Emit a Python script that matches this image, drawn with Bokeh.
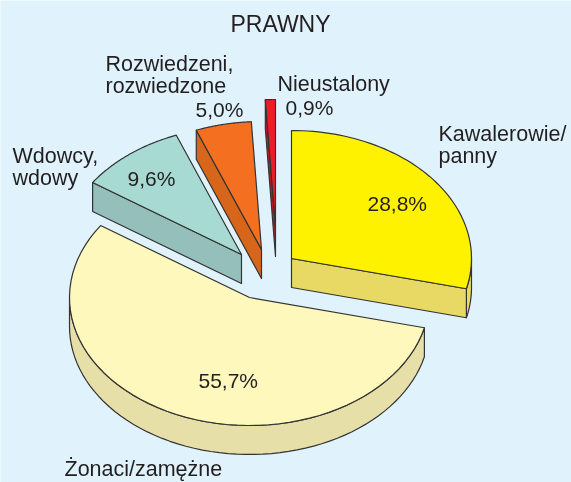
import math
from bokeh.plotting import figure
from bokeh.embed import file_html
from bokeh.resources import INLINE
from bokeh.core.properties import value

# --- data ---
title = "PRAWNY"
categories = ["Kawalerowie/\npanny", "Żonaci/zamężne", "Wdowcy,\nwdowy", "Rozwiedzeni,\nrozwiedzone", "Nieustalony"]
shares = [28.8, 55.7, 9.6, 5.0, 0.9]

# --- layout (pixels, y down) ---
W, H = 571, 482
RX, RY, DEPTH = 180, 128, 29
apex_x = [291, 249, 241, 261, 275]
apex_y = [258, 297, 254, 249, 227]
top_col = ["#FFF200", "#FFF8BC", "#A6DAD2", "#F47020", "#EE1C25"]
side_col = ["#E8D964", "#E6DFA8", "#95BFBA", "#D7651A", "#B81B22"]
BG = "#E0F3FC"
INK = "#231F20"
FONT = "Liberation Sans"
LINE_GAP = 22
# name block anchors and percentage anchors (baselines)
name_x = [438, 64, 12, 105, 277]
name_y = [141, 476, 163, 71, 91]
pct_x = [367, 198, 127, 195, 285]
pct_y = [210, 387, 185, 116, 114]

p = figure(width=W, height=H, x_range=(0, W), y_range=(H, 0),
           output_backend="svg", toolbar_location=None, min_border=0,
           background_fill_color=BG, border_fill_color=BG,
           outline_line_color=None,
           styles={"position": "fixed", "left": "0", "top": "0"})
p.axis.visible = False
p.grid.visible = False


def rim(cx, cy, t0, t1, dy=0, n=60):
    ts = [t0 + (t1 - t0) * i / n for i in range(n + 1)]
    return ([cx + RX * math.sin(math.radians(t)) for t in ts],
            [cy - RY * math.cos(math.radians(t)) + dy for t in ts])


def poly(xs, ys, color):
    p.patch(xs, ys, fill_color=color, line_color="#333333", line_width=1.2, line_join="round")


# slice angles from the values
edges = [0.0]
for s in shares:
    edges.append(edges[-1] + s * 3.6)

for i in [4, 3, 2, 0, 1]:
    cx, cy = apex_x[i], apex_y[i]
    t0, t1 = edges[i], edges[i + 1]
    # side walls: outer rim in the lower half of the ellipse
    a, b = max(t0, 90), min(t1, 270)
    if a < b:
        x1, y1 = rim(cx, cy, a, b)
        x2, y2 = rim(cx, cy, a, b, DEPTH)
        poly(x1 + x2[::-1], y1 + y2[::-1], side_col[i])
    # cut faces that look towards the viewer
    if i == 0:
        tf = t1
    elif i == 1:
        tf = None
    else:
        tf = t0
    if tf is not None:
        ex = cx + RX * math.sin(math.radians(tf))
        ey = cy - RY * math.cos(math.radians(tf))
        poly([cx, ex, ex, cx], [cy, ey, ey + DEPTH, cy + DEPTH], side_col[i])
    # top face
    xs, ys = rim(cx, cy, t0, t1)
    poly([cx] + xs, [cy] + ys, top_col[i])

# texts: y is the wanted baseline; the glyph call anchors on the text's middle
def label(x, y, txt, size=21, align="left"):
    p.text([x], [y - 0.35 * size], text=[txt], text_font=value(FONT), text_font_size=value(f"{size}px"),
           text_color=INK, text_align=align, text_baseline="middle")


label(280, 32, title, 23, "center")
for i, name in enumerate(categories):
    for j, line in enumerate(name.split("\n")):
        label(name_x[i], name_y[i] + LINE_GAP * j, line, 21.5)
    label(pct_x[i], pct_y[i], f"{shares[i]:.1f}%".replace(".", ","))

open("out.html", "w").write(file_html(p, INLINE))
